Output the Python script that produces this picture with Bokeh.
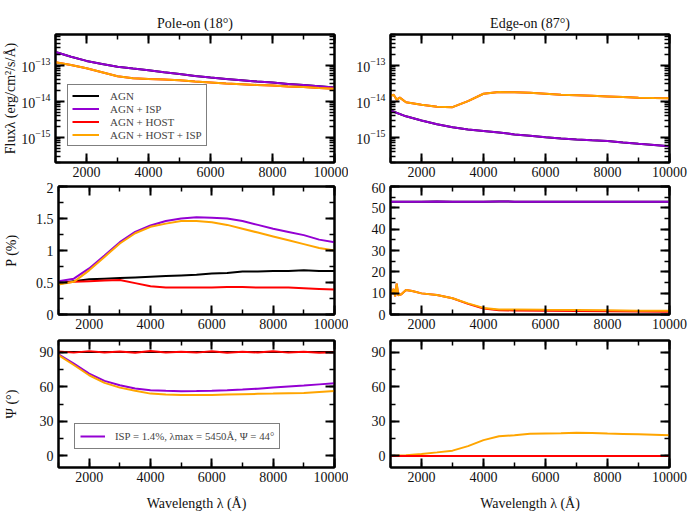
from bokeh.plotting import figure
from bokeh.models import (LinearAxis, LogAxis, FixedTicker, SingleIntervalTicker, Range1d,
                          Legend, LegendItem, Title)
from bokeh.layouts import column, row
from bokeh.embed import file_html
from bokeh.resources import INLINE

FONT = "Liberation Serif"
C_AGN = "#000000"
C_ISP = "#9400D3"
C_HOST = "#FF0000"
C_ALL = "#FFA500"

# ---------------- data ----------------
wl = [1000, 1500, 2000, 2500, 3000, 3500, 4000, 4500, 5000, 5500,
      6000, 6500, 7000, 7500, 8000, 8500, 9000, 9500, 10000]

# Pole-on flux
flux_pole_agn = [2.3e-13, 1.7e-13, 1.3e-13, 1.07e-13, 9.0e-14, 8.0e-14, 7.2e-14, 6.3e-14, 5.6e-14, 5.0e-14,
                 4.5e-14, 4.1e-14, 3.8e-14, 3.5e-14, 3.3e-14, 3.0e-14, 2.8e-14, 2.6e-14, 2.4e-14]
flux_pole_host = [1.2e-13, 1.0e-13, 8.1e-14, 6.3e-14, 4.9e-14, 4.3e-14, 4.1e-14, 4.0e-14, 3.8e-14, 3.5e-14,
                  3.3e-14, 3.1e-14, 2.95e-14, 2.8e-14, 2.7e-14, 2.55e-14, 2.45e-14, 2.3e-14, 2.2e-14]

# Edge-on flux
flux_edge_agn = [5.5e-15, 3.8e-15, 2.9e-15, 2.3e-15, 1.9e-15, 1.65e-15, 1.5e-15, 1.35e-15, 1.2e-15, 1.1e-15,
                 1.0e-15, 9.3e-16, 8.7e-16, 8.2e-16, 7.9e-16, 7.2e-16, 6.6e-16, 6.1e-16, 5.6e-16]
wl_edge_host = [1000, 1100, 1200, 1300, 1500, 2000, 2500, 3000, 3500, 4000, 4500, 5000, 5500,
                6000, 6500, 7000, 7500, 8000, 8500, 9000, 9500, 10000]
flux_edge_host = [1.4e-14, 1.5e-14, 1.1e-14, 1.25e-14, 9.3e-15, 8.0e-15, 7.0e-15, 6.8e-15, 1.0e-14, 1.6e-14,
                  1.8e-14, 1.75e-14, 1.7e-14, 1.6e-14, 1.5e-14, 1.45e-14, 1.4e-14, 1.35e-14, 1.3e-14,
                  1.25e-14, 1.22e-14, 1.2e-14]

# Pole-on polarisation degree (%)
p_pole_agn = [0.49, 0.52, 0.55, 0.56, 0.57, 0.58, 0.59, 0.60, 0.61, 0.62,
              0.64, 0.65, 0.67, 0.67, 0.68, 0.68, 0.69, 0.68, 0.68]
p_pole_isp = [0.52, 0.56, 0.72, 0.92, 1.13, 1.29, 1.39, 1.46, 1.50, 1.52,
              1.51, 1.50, 1.46, 1.40, 1.34, 1.29, 1.24, 1.17, 1.13]
p_pole_host = [0.48, 0.51, 0.52, 0.53, 0.54, 0.49, 0.44, 0.42, 0.42, 0.42,
               0.42, 0.43, 0.43, 0.42, 0.42, 0.42, 0.41, 0.40, 0.39]
p_pole_all = [0.47, 0.51, 0.69, 0.90, 1.11, 1.27, 1.37, 1.42, 1.46, 1.46,
              1.44, 1.40, 1.34, 1.28, 1.22, 1.16, 1.10, 1.04, 1.00]

# Edge-on polarisation degree (%)
p_edge_agn = [52.9, 52.8, 52.9, 53.0, 52.9, 52.8, 52.9, 53.0, 52.9, 52.9,
              52.9, 52.8, 52.9, 52.9, 52.8, 52.9, 52.8, 52.8, 52.8]
p_edge_isp = [52.9, 52.8, 52.9, 53.0, 52.9, 52.8, 52.9, 53.0, 52.9, 52.9,
              52.9, 52.8, 52.9, 52.9, 52.8, 52.9, 52.8, 52.8, 52.8]
wl_edge_p = [1000, 1100, 1150, 1200, 1250, 1350, 1500, 1700, 2000, 2500, 3000, 3500,
             4000, 4500, 5000, 6000, 7000, 8000, 9000, 10000]
p_edge_host = [9.0, 12.0, 8.5, 14.5, 9.0, 9.5, 11.5, 11.0, 9.9, 9.1, 7.6, 5.0,
               2.8, 2.0, 1.9, 1.7, 1.6, 1.5, 1.4, 1.3]
p_edge_all = [9.0, 12.0, 8.5, 14.5, 9.0, 9.5, 11.5, 11.0, 9.9, 9.1, 7.6, 5.2,
              3.1, 2.4, 2.4, 2.2, 2.1, 2.0, 1.8, 1.7]

# Pole-on polarisation angle (deg)
psi_pole_agn = [90, 90, 90, 90, 90, 90, 90, 90, 90, 90,
                90, 90, 90, 90, 90, 90, 90, 90, 90]
psi_pole_host = [90.5, 89.5, 90.8, 89.6, 90.4, 89.3, 91.0, 89.7, 90.3, 89.5,
                 90.6, 89.4, 90.2, 89.6, 90.7, 89.5, 90.3, 89.4, 89.8]
psi_pole_isp = [88.0, 80.0, 71.3, 65.0, 61.2, 58.4, 56.9, 56.4, 56.1, 56.2,
                56.4, 56.9, 57.5, 58.3, 59.2, 60.1, 61.0, 62.0, 63.0]
psi_pole_all = [87.4, 78.8, 69.9, 63.3, 59.2, 56.4, 54.0, 53.2, 52.9, 52.9,
                52.9, 53.2, 53.5, 53.8, 54.0, 54.3, 54.6, 55.4, 56.2]

# Edge-on polarisation angle (deg)
psi_edge_agn = [0, 0, 0, 0, 0, 0, 0, 0, 0, 0,
                0, 0, 0, 0, 0, 0, 0, 0, 0]
psi_edge_all = [0.0, 0.6, 1.7, 3.1, 4.6, 8.5, 13.7, 17.0, 18.0, 19.2,
                19.4, 19.6, 20.0, 19.8, 19.4, 19.1, 18.8, 18.4, 18.0]

legend_labels = ["AGN", "AGN + ISP", "AGN + HOST", "AGN + HOST + ISP"]
isp_label = "ISP = 1.4%, \u03bbmax = 5450\u00c5, \u03a8 = 44\u00b0"

LW = 2


def style_axis(ax, labels=True):
    ax.axis_line_width = 2
    ax.major_tick_in = 9
    ax.major_tick_out = 0
    ax.minor_tick_in = 5
    ax.minor_tick_out = 0
    ax.major_tick_line_width = 2
    ax.minor_tick_line_width = 1.5
    ax.major_label_text_font = FONT
    ax.major_label_text_font_size = "14px"
    ax.major_label_text_color = "#111111"
    ax.axis_label_text_font = FONT
    ax.axis_label_text_font_size = "14px"
    ax.axis_label_text_font_style = "normal"
    ax.axis_label_text_color = "#111111"
    if not labels:
        ax.major_label_text_font_size = "1px"
        ax.major_label_text_color = None
        ax.major_label_standoff = 0


def make_fig(width, height, bl, br, bt, bb, yrange, yticker, ylog=False):
    kw = dict(width=width, height=height, output_backend="svg", toolbar_location=None,
              x_range=Range1d(1000, 10000), y_range=yrange,
              min_border_left=bl, min_border_right=br, min_border_top=bt, min_border_bottom=bb,
              x_axis_location=None, y_axis_location=None)
    if ylog:
        kw["y_axis_type"] = "log"
    p = figure(**kw)
    p.title = None
    p.xgrid.visible = False
    p.ygrid.visible = False
    p.outline_line_color = "black"
    p.outline_line_width = 2
    p.background_fill_color = "white"
    p.border_fill_color = "white"

    bottom = LinearAxis(ticker=SingleIntervalTicker(interval=2000, num_minor_ticks=2))
    style_axis(bottom)
    bottom.major_label_standoff = 4
    p.add_layout(bottom, "below")
    left = LogAxis(ticker=yticker) if ylog else LinearAxis(ticker=yticker)
    style_axis(left)
    left.major_label_standoff = 5
    p.add_layout(left, "left")

    top = LinearAxis(ticker=SingleIntervalTicker(interval=2000, num_minor_ticks=2))
    style_axis(top, labels=False)
    p.add_layout(top, "above")
    right = LinearAxis(ticker=yticker)
    style_axis(right, labels=False)
    p.add_layout(right, "right")
    return p, bottom, left


log_ticker = FixedTicker(ticks=[1e-15, 1e-14, 1e-13],
                         minor_ticks=[m * 10.0 ** e for e in (-16, -15, -14, -13) for m in range(2, 10)])

LWID, RWID = 348, 348
H1, H2, H3 = 182, 152, 179

# ---- row 1: flux ----
f1, b1, l1 = make_fig(LWID, H1, 55, 14, 34, 20, Range1d(2e-16, 7e-13), log_ticker, ylog=True)
f2, b2, l2 = make_fig(RWID, H1, 42, 27, 34, 20, Range1d(2e-16, 7e-13), log_ticker, ylog=True)
for p, t in ((f1, "Pole-on (18\u00b0)"), (f2, "Edge-on (87\u00b0)")):
    p.add_layout(Title(text=t, align="center", text_font=FONT, text_font_size="14px",
                       text_font_style="normal", text_color="#111111", standoff=7), "above")

r_agn = f1.line(wl, flux_pole_agn, color=C_AGN, line_width=LW)
r_isp = f1.line(wl, flux_pole_agn, color=C_ISP, line_width=LW)
r_host = f1.line(wl, flux_pole_host, color=C_HOST, line_width=LW)
r_all = f1.line(wl, flux_pole_host, color=C_ALL, line_width=LW)
l1.axis_label = "Flux\u03bb (erg/cm\u00b2/s/\u00c5)"
l1.axis_label_standoff = 0

leg1 = Legend(items=[LegendItem(label=legend_labels[0], renderers=[r_agn]),
                     LegendItem(label=legend_labels[1], renderers=[r_isp]),
                     LegendItem(label=legend_labels[2], renderers=[r_host]),
                     LegendItem(label=legend_labels[3], renderers=[r_all])],
              location=(12, 16), border_line_color="black", border_line_width=1,
              background_fill_alpha=1.0, label_text_font=FONT, label_text_font_size="11px",
              glyph_width=27, glyph_height=13, label_height=13, label_standoff=11,
              padding=4, spacing=0, margin=0)
f1.add_layout(leg1, "center")

f2.line(wl, flux_edge_agn, color=C_AGN, line_width=LW)
f2.line(wl, flux_edge_agn, color=C_ISP, line_width=LW)
f2.line(wl_edge_host, flux_edge_host, color=C_HOST, line_width=LW)
f2.line(wl_edge_host, flux_edge_host, color=C_ALL, line_width=LW)

# ---- row 2: polarisation degree ----
f3, b3, l3 = make_fig(LWID, H2, 55, 14, 4, 20, Range1d(0, 2),
                      SingleIntervalTicker(interval=0.5, num_minor_ticks=2))
f4, b4, l4 = make_fig(RWID, H2, 42, 27, 4, 20, Range1d(0, 60),
                      SingleIntervalTicker(interval=10, num_minor_ticks=2))
f3.line(wl, p_pole_agn, color=C_AGN, line_width=LW)
f3.line(wl, p_pole_isp, color=C_ISP, line_width=LW)
f3.line(wl, p_pole_host, color=C_HOST, line_width=LW)
f3.line(wl, p_pole_all, color=C_ALL, line_width=LW)
l3.axis_label = "P (%)"
l3.axis_label_standoff = 14

f4.line(wl, p_edge_agn, color=C_AGN, line_width=LW)
f4.line(wl, p_edge_isp, color=C_ISP, line_width=LW)
f4.line(wl_edge_p, p_edge_host, color=C_HOST, line_width=LW)
f4.line(wl_edge_p, p_edge_all, color=C_ALL, line_width=LW)

# ---- row 3: polarisation angle ----
f5, b5, l5 = make_fig(LWID, H3, 55, 14, 6, 46, Range1d(-10, 100),
                      SingleIntervalTicker(interval=30, num_minor_ticks=2))
f6, b6, l6 = make_fig(RWID, H3, 42, 27, 6, 46, Range1d(-10, 100),
                      SingleIntervalTicker(interval=30, num_minor_ticks=2))
f5.line(wl, psi_pole_agn, color=C_AGN, line_width=LW)
r5_isp = f5.line(wl, psi_pole_isp, color=C_ISP, line_width=LW)
f5.line(wl, psi_pole_host, color=C_HOST, line_width=LW)
f5.line(wl, psi_pole_all, color=C_ALL, line_width=LW)
l5.axis_label = "\u03a8 (\u00b0)"
l5.axis_label_standoff = 18
leg2 = Legend(items=[LegendItem(label=isp_label, renderers=[r5_isp])],
              location=(16, 18), border_line_color="black", border_line_width=1,
              background_fill_alpha=1.0, label_text_font=FONT, label_text_font_size="10.8px",
              glyph_width=25, glyph_height=14, label_height=14, label_standoff=10,
              padding=5, spacing=0, margin=0)
f5.add_layout(leg2, "center")

f6.line(wl, psi_edge_agn, color=C_AGN, line_width=LW)
f6.line(wl, psi_edge_all, color=C_ALL, line_width=LW)
f6.line(wl, psi_edge_agn, color=C_ISP, line_width=LW)
f6.line(wl, psi_edge_agn, color=C_HOST, line_width=LW)

for b in (b5, b6):
    b.axis_label = "Wavelength \u03bb (\u00c5)"
    b.axis_label_standoff = 11

layout = column(row(f1, f2), row(f3, f4), row(f5, f6))
open("out.html", "w").write(file_html(layout, INLINE))
